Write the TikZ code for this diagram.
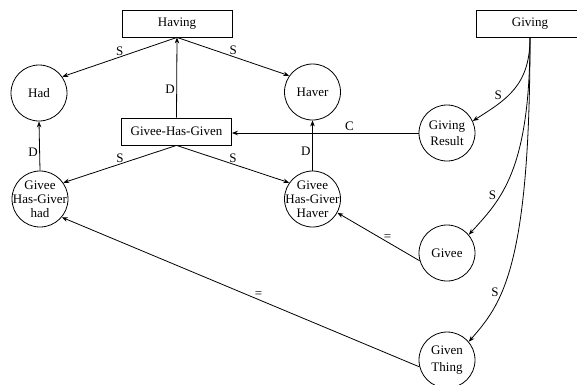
\documentclass[tikz,border=0pt]{standalone}
\usepackage{fontspec}
\setmainfont{Liberation Serif}
\usetikzlibrary{arrows.meta}
\begin{document}
\begin{tikzpicture}[x=1pt,y=-1pt,
 box/.style={draw, line width=0.8pt, minimum width=110pt, minimum height=27pt, inner sep=0pt, font=\fontsize{13}{15}\selectfont},
 circ/.style={draw, circle, line width=0.8pt, minimum size=56pt, inner sep=0pt},
 ctext/.style={align=center, font=\fontsize{13}{14}\selectfont, inner sep=0pt},
 edge/.style={line width=0.8pt, -{Stealth[length=6pt,width=4.5pt]}},
 lbl/.style={font=\fontsize{13}{15}\selectfont, inner sep=1.5pt}]
\clip (0,0) rectangle (577,384);
\useasboundingbox (0,0) rectangle (577,384);
% boxes
\node[box] (Having) at (177,23.5) {Having};
\node[box] (GHG) at (176.5,131.5) {Givee-Has-Given};
\node[box, minimum width=108pt] (Giving) at (530,24) {Giving};
% circles
\node[circ, label={[ctext]center:Had}] (Had) at (39,93) {};
\node[circ, label={[ctext]center:Haver}] (Haver) at (312.5,92) {};
\node[circ, label={[ctext, font=\fontsize{13}{16}\selectfont]center:Giving\\Result}] (GR) at (447,133) {};
\node[circ, label={[ctext]center:Givee\\Has-Giver\\had}] (GHGhad) at (40,199) {};
\node[circ, label={[ctext]center:Givee\\Has-Giver\\Haver}] (GHGHaver) at (312.5,199) {};
\node[circ, label={[ctext]center:Givee}] (Givee) at (447,253) {};
\node[circ, label={[ctext, font=\fontsize{13}{17}\selectfont]center:Given\\Thing}] (GT) at (447,360) {};
% edges
\draw[edge] (Having.south) -- node[lbl, above]{S} (Had.35);
\draw[edge] (Having.south) -- node[lbl, above]{S} (Haver.145);
\draw[edge] (GHG.north) -- node[lbl, left, pos=.35]{D} (Having.south);
\draw[edge] (GHGhad.north) -- node[lbl, left, pos=.38]{D} (Had.south);
\draw[edge] (GHGHaver.north) -- node[lbl, left, pos=.38]{D} (Haver.south);
\draw[edge] (GHG.south) -- node[lbl, above]{S} (GHGhad.35);
\draw[edge] (GHG.south) -- node[lbl, above]{S} (GHGHaver.145);
\draw[edge] (GR.west) -- node[lbl, above, pos=.37]{C} (GR.west -| GHG.east);
\draw[edge] (Givee.196) -- node[lbl, above, pos=.39]{=} (GHGHaver.-29);
\draw[edge] (GT.194) -- node[lbl, above, pos=.45]{=} (GHGhad.-40);
% curves from Giving
\draw[edge] (Giving.south) .. controls +(0,48) and +(33,-21) .. node[lbl, pos=.66, above left, inner sep=0.5pt]{S} (GR.25);
\draw[edge] (Giving.south) .. controls +(0,133) and +(32,-35) .. node[lbl, pos=.69, above left, inner sep=0.5pt]{S} (Givee.40);
\draw[edge] (Giving.south) .. controls +(0,233) and +(32,-37) .. node[lbl, pos=.66, above left, inner sep=0.5pt]{S} (GT.40);
\end{tikzpicture}
\end{document}
